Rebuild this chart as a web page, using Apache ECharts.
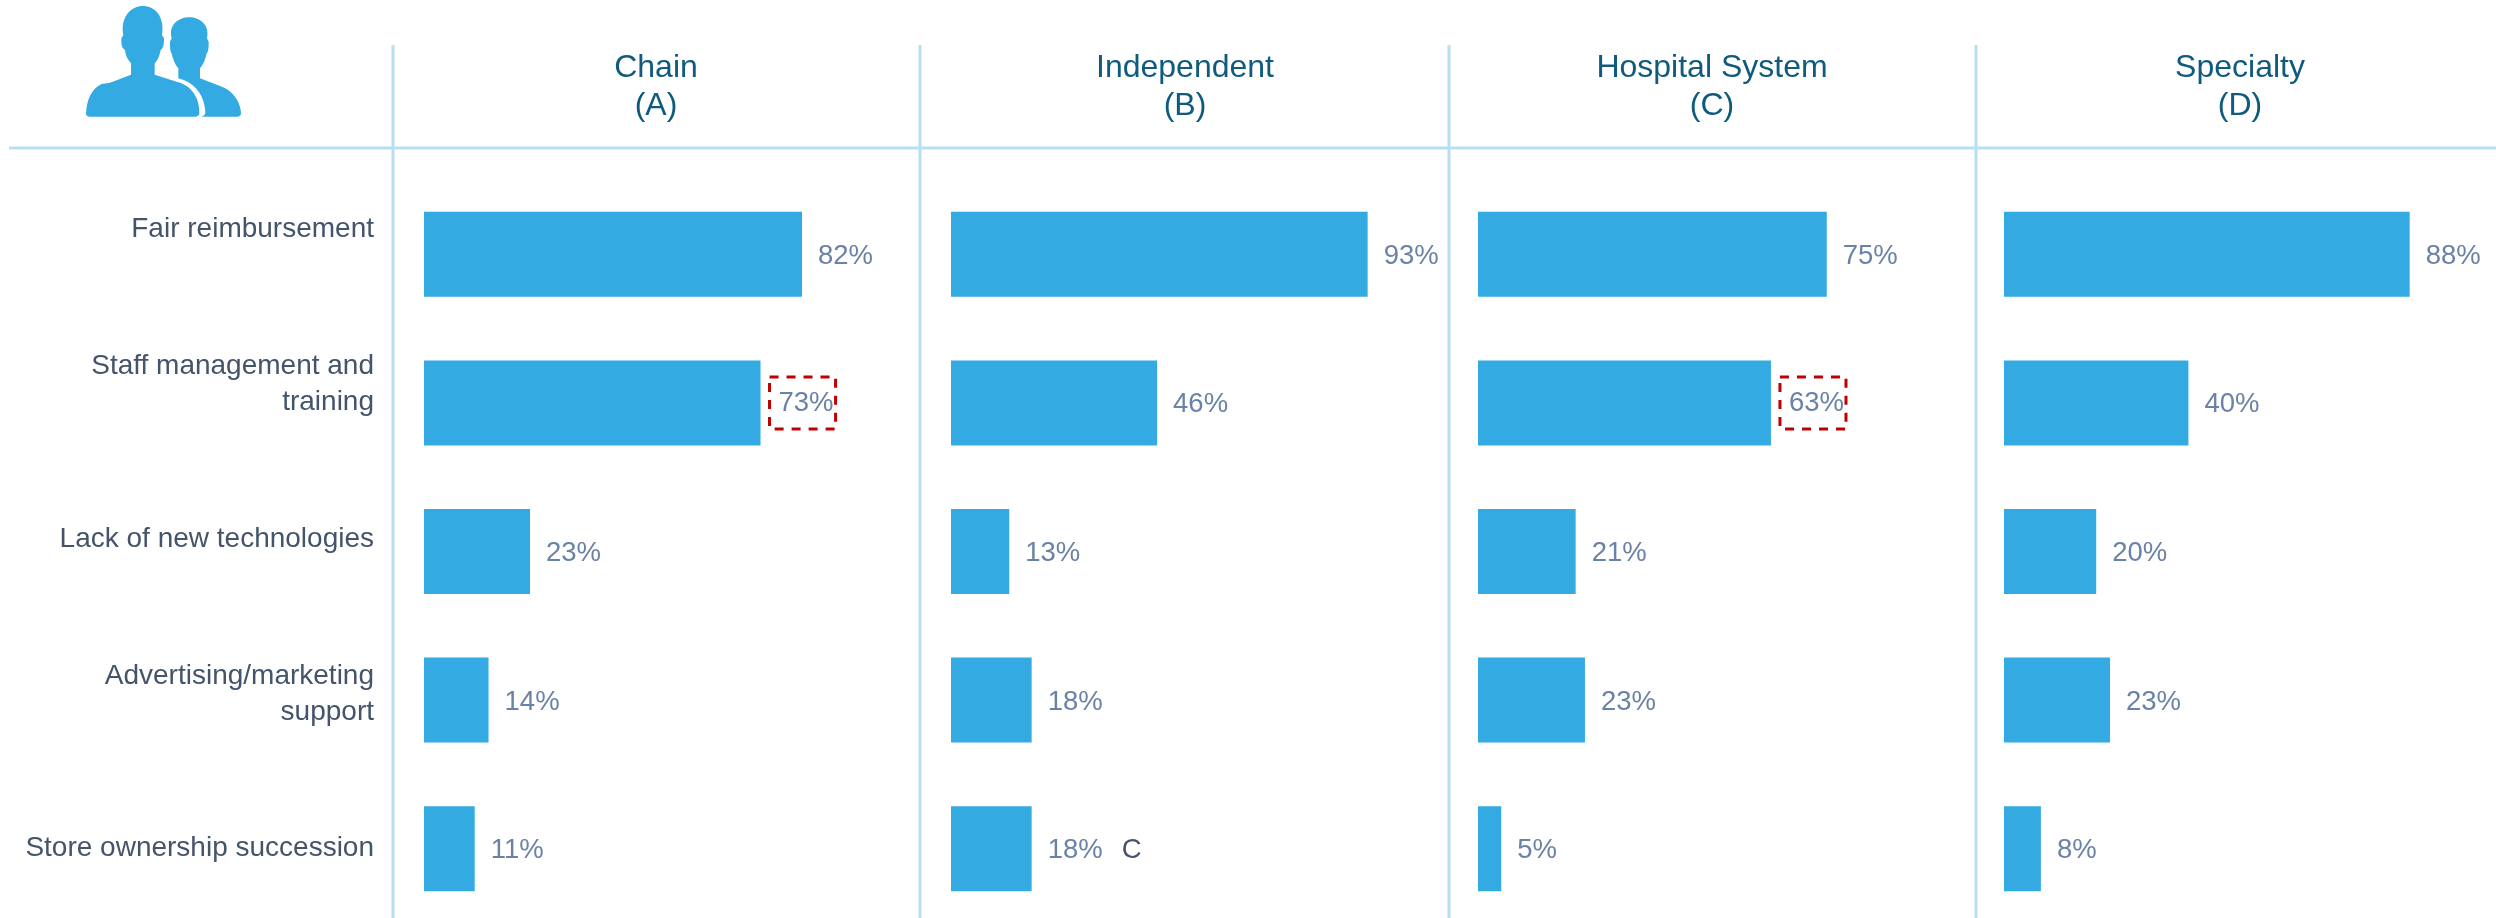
<!DOCTYPE html>
<html><head><meta charset="utf-8">
<style>html,body{margin:0;padding:0;background:#fff}#c{width:2496px;height:918px}</style>
<script src="https://cdn.jsdelivr.net/npm/echarts@6/dist/echarts.min.js"></script>
</head><body><div id="c"></div>
<script>
const rowLabels = ['Fair reimbursement','Staff management and\ntraining','Lack of new technologies','Advertising/marketing\nsupport','Store ownership succession'];
const panelTitles = ['Chain\n(A)','Independent\n(B)','Hospital System\n(C)','Specialty\n(D)'];
const chainValues = [82,73,23,14,11];
const independentValues = [93,46,13,18,18];
const hospitalValues = [75,63,21,23,5];
const specialtyValues = [88,40,20,23,8];
const chainFlags = [false,true,false,false,false];
const independentFlags = [false,false,false,false,false];
const hospitalFlags = [false,true,false,false,false];
const specialtyFlags = [false,false,false,false,false];
const independentLetters = ['','','','','C'];
const noLetters = ['','','','',''];

const FONT = '"Liberation Sans", Arial, sans-serif';
const BAR = '#33ABE2', RULE = '#B5DFF5', VAL = '#6A82A6', ROW = '#44546A', HEAD = '#0F5A7D';
const panels = [
  {values: chainValues, flags: chainFlags, letters: noLetters, left: 424, width: 461, cx: 656},
  {values: independentValues, flags: independentFlags, letters: independentLetters, left: 951, width: 448, cx: 1185},
  {values: hospitalValues, flags: hospitalFlags, letters: noLetters, left: 1478, width: 465, cx: 1712},
  {values: specialtyValues, flags: specialtyFlags, letters: noLetters, left: 2004, width: 461, cx: 2240}
];
const iconSvg = `<svg xmlns="http://www.w3.org/2000/svg" width="200" height="130" viewBox="0 0 600 390"><g fill="${BAR}">`
 + `<path d="M78 340C80 300 95 265 125 252L150 248L213 224L213 190C205 180 197 170 195 150C185 145 184 135 184 115L190 105C180 50 215 18 248 18C285 18 315 50 306 105L312 115C312 135 310 145 302 150C298 170 292 182 284 190L284 224L350 245C395 255 420 295 418 340C418 347 412 350 405 350L90 350C82 350 78 347 78 340Z"/>`
 + `<path d="M355 235L355 205C345 195 338 175 335 160C330 155 330 140 330 125L335 115C325 75 355 52 388 52C420 52 450 75 441 115L446 125C446 140 446 155 440 160C437 175 430 195 420 205L420 235L480 258C520 270 543 310 543 340C543 347 538 350 532 350L424 350C440 345 436 335 434 320C428 280 400 245 355 235Z"/>`
 + `</g></svg>`;
const option = {
  animation: false,
  backgroundColor: '#fff',
  title: panelTitles.map((t,i)=>({
    text: t, left: panels[i].cx, top: 49, padding: 0, textAlign: 'center',
    textStyle: {fontFamily: FONT, fontSize: 32, fontWeight: 'normal', color: HEAD, lineHeight: 38}
  })),
  grid: panels.map(p=>({outerBoundsMode:'none',left: p.left, width: p.width, top: 180, height: 743}))
    .concat([{outerBoundsMode:'none',left: 374, width: 10, top: 152, height: 774}]),
  xAxis: panels.map((p,i)=>({gridIndex:i,type:'value',min:0,max:100,show:false}))
    .concat([{gridIndex:4,type:'value',min:0,max:1,show:false}]),
  yAxis: panels.map((p,i)=>({gridIndex:i,type:'category',inverse:true,data:rowLabels,show:false}))
    .concat([{gridIndex:4,type:'category',inverse:true,data:rowLabels,
      axisLine:{show:false},axisTick:{show:false},splitLine:{show:false},
      axisLabel:{show:true,interval:0,margin:0,align:'right',fontFamily:FONT,fontSize:28,color:ROW,lineHeight:36}}]),
  series: panels.map((p,i)=>({
    type:'bar', xAxisIndex:i, yAxisIndex:i, barWidth:85,
    itemStyle:{color:BAR},
    data:p.values.map((v,j)=>{
      const d={value:v};
      if(p.flags[j]){
        d.label={distance:9,offset:[0,0],borderColor:'#C00000',borderWidth:3,borderType:[9,8],padding:[13,2,11,9]};
      }
      return d;
    }),
    label:{show:true,position:'right',distance:16,offset:[0,2],fontFamily:FONT,fontSize:27.5,color:VAL,
      formatter:o=>{const l=p.letters[o.dataIndex];return l?`{v|${o.value}%}{g|${l}}`:`${o.value}%`;},
      rich:{v:{fontFamily:FONT,fontSize:27.5,color:VAL},g:{fontFamily:FONT,fontSize:27.5,color:ROW,padding:[0,0,0,19]}}}
  })),
  graphic:[
    {type:'line',silent:true,shape:{x1:9,y1:148,x2:2496,y2:148},style:{stroke:RULE,lineWidth:3}},
    ...[393,920,1449,1976].map(x=>({type:'line',silent:true,shape:{x1:x,y1:45,x2:x,y2:918},style:{stroke:RULE,lineWidth:3}})),
    {type:'image',silent:true,x:60,y:0,style:{image:'data:image/svg+xml;charset=utf-8,'+encodeURIComponent(iconSvg),x:0,y:0,width:200,height:130}}
  ]
};
const chart = echarts.init(document.getElementById('c'),null,{renderer:'canvas'});
chart.setOption(option);
</script></body></html>
